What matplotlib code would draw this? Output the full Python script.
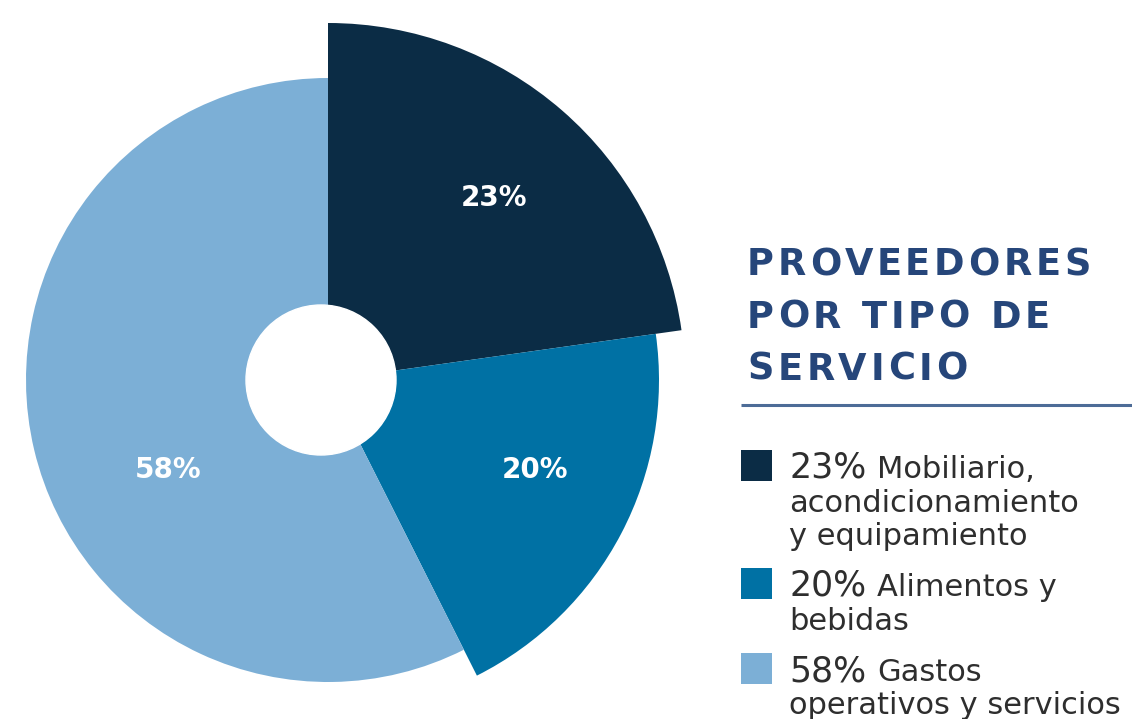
import matplotlib
matplotlib.use("Agg")
import matplotlib.pyplot as plt
from matplotlib.patches import Circle, Rectangle
from matplotlib.font_manager import FontProperties

W, H = 1132, 719

# datos
shares = [23, 20, 58]
pct_labels = ["23%", "20%", "58%"]
legend_text = [
    ["Mobiliario,", "acondicionamiento", "y equipamiento"],
    ["Alimentos y", "bebidas"],
    ["Gastos", "operativos y servicios"],
]
title_lines = ["PROVEEDORES", "POR TIPO DE", "SERVICIO"]

# estilo
colors = ["#0b2c45", "#0071a4", "#7cafd6"]
radii = [357, 331, 302]
center = (328, 380)
label_pos = [(494, 198), (535, 470), (168, 470)]
title_color = "#26467a"
text_color = "#2e2e2e"


def Y(y):
    return H - y


def tracked(ax, x, y, s, tracking, renderer, **kw):
    prop = FontProperties(family=kw.get("family", "DejaVu Sans"),
                          weight=kw.get("weight", "normal"), size=kw["size"])
    w0 = renderer.get_text_width_height_descent("|", prop, ismath=False)[0]
    for i, ch in enumerate(s):
        w = renderer.get_text_width_height_descent(s[:i] + "|", prop, ismath=False)[0] - w0
        ax.text(x + w + i * tracking, y, ch, va="baseline", ha="left", **kw)


fig = plt.figure(figsize=(W / 100, H / 100), dpi=100)
ax = fig.add_axes([0, 0, 1, 1])
renderer = fig.canvas.get_renderer()

for i in range(len(shares)):
    cols = [colors[i] if j == i else "none" for j in range(len(shares))]
    ax.pie(shares, colors=cols, radius=radii[i], center=(center[0], Y(center[1])),
           startangle=90, counterclock=False, wedgeprops=dict(linewidth=0))

ax.add_patch(Circle((321, Y(380)), 75, color="white", zorder=5))

for (x, y), lab in zip(label_pos, pct_labels):
    ax.text(x, Y(y), lab, color="white", fontsize=20, fontweight="bold",
            ha="center", va="center", zorder=6)

# titulo
for k, line in enumerate(title_lines):
    tracked(ax, 747, Y(275 + 52.5 * k), line, 3.8, renderer,
            size=26.5, weight="bold", color=title_color, family="DejaVu Sans")
ax.plot([741, W], [Y(405), Y(405)], color="#4d6c97", lw=2.2, solid_capstyle="butt")

# leyenda
box_top = [450, 568, 653]
for i, lines in enumerate(legend_text):
    ax.add_patch(Rectangle((741, Y(box_top[i] + 31)), 31, 31, color=colors[i], lw=0))
    base = box_top[i] + 28
    ax.text(789, Y(base), pct_labels[i], fontsize=25, color=text_color, va="baseline")
    ax.text(877, Y(base), lines[0], fontsize=22, color=text_color, va="baseline")
    for k, line in enumerate(lines[1:]):
        ax.text(789, Y(base + 33.5 * (k + 1)), line, fontsize=22,
                color=text_color, va="baseline")

ax.set_xlim(0, W)
ax.set_ylim(0, H)
ax.set_aspect("auto")
ax.axis("off")

fig.savefig("out.png", dpi=100)
